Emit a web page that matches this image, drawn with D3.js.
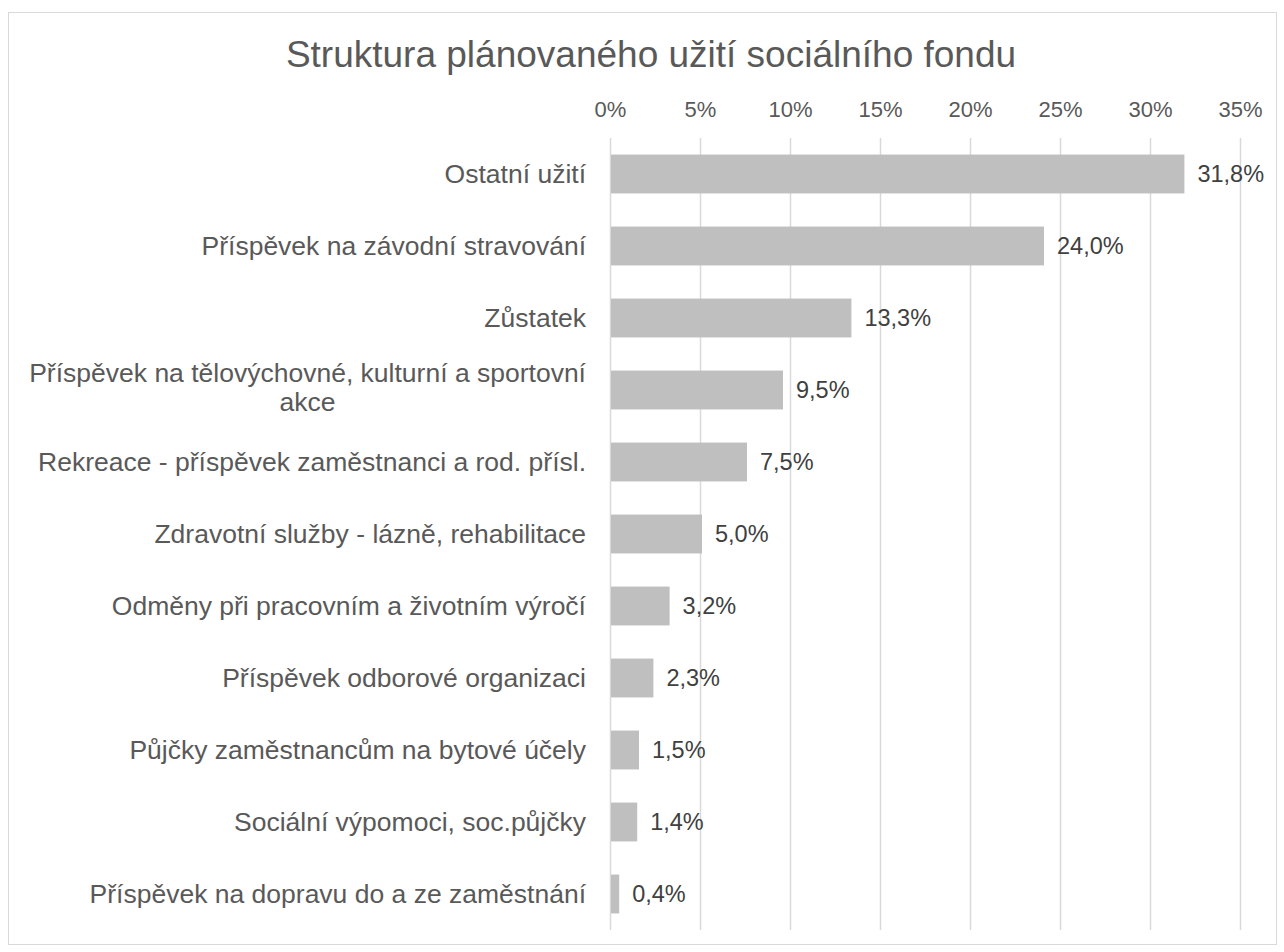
<!DOCTYPE html>
<html>
<head>
<meta charset="utf-8">
<script src="https://cdn.jsdelivr.net/npm/d3@7"></script>
<style>
body { margin: 0; background: #fff; }
text { font-family: "Liberation Sans", Arial, sans-serif; }
</style>
</head>
<body>
<div id="chart"></div>
<script>
var categories = [
	"Ostatní užití",
	"Příspěvek na závodní stravování",
	"Zůstatek",
	"Příspěvek na tělovýchovné, kulturní a sportovní|akce",
	"Rekreace - příspěvek zaměstnanci a rod. přísl.",
	"Zdravotní služby - lázně, rehabilitace",
	"Odměny při pracovním a životním výročí",
	"Příspěvek odborové organizaci",
	"Půjčky zaměstnancům na bytové účely",
	"Sociální výpomoci, soc.půjčky",
	"Příspěvek na dopravu do a ze zaměstnání"
];
var values = [31.8, 24.0, 13.3, 9.5, 7.5, 5.0, 3.2, 2.3, 1.5, 1.4, 0.4];
var ticks = [0, 5, 10, 15, 20, 25, 30, 35];
var title = "Struktura plánovaného užití sociálního fondu";

var width = 1284, height = 952;
var plotLeft = 610, plotRight = 1240, plotTop = 138, plotBottom = 930;

var svg = d3.select("#chart").append("svg")
	.attr("width", width)
	.attr("height", height);

// outer frame
svg.append("rect")
	.attr("x", 8.5).attr("y", 12.5)
	.attr("width", 1268).attr("height", 932)
	.attr("fill", "#fff")
	.attr("stroke", "#d9d9d9");

svg.append("text")
	.attr("x", 651).attr("y", 67)
	.attr("text-anchor", "middle")
	.attr("font-size", 37)
	.attr("fill", "#595959")
	.text(title);

var xScale = d3.scaleLinear().domain([0, 35]).range([plotLeft, plotRight]);
var yScale = d3.scaleBand().domain(d3.range(categories.length)).range([plotTop, plotBottom]).paddingInner(0.46).paddingOuter(0.23);

// gridlines
svg.append("g").selectAll("line")
	.data(ticks)
	.enter().append("line")
	.attr("x1", function(d){ return xScale(d) + 0.5; })
	.attr("x2", function(d){ return xScale(d) + 0.5; })
	.attr("y1", plotTop).attr("y2", plotBottom)
	.attr("stroke", "#d9d9d9")
	.attr("stroke-width", 1.5);

// top axis labels
var axis = svg.append("g")
	.attr("transform", "translate(0,117)")
	.call(d3.axisTop(xScale).tickValues(ticks).tickSize(0).tickPadding(0).tickFormat(function(d){ return d + "%"; }));
axis.select(".domain").remove();
axis.selectAll("text")
	.attr("dy", 0)
	.attr("font-size", 22)
	.attr("font-family", "Liberation Sans, Arial, sans-serif")
	.attr("fill", "#595959");

// bars
svg.append("g").selectAll("rect")
	.data(values)
	.enter().append("rect")
	.attr("x", xScale(0) + 1)
	.attr("y", function(d, i){ return yScale(i); })
	.attr("width", function(d){ return xScale(d) - xScale(0) + 1; })
	.attr("height", yScale.bandwidth())
	.attr("fill", "#bfbfbf");

// value labels
svg.append("g").selectAll("text")
	.data(values)
	.enter().append("text")
	.attr("x", function(d){ return xScale(d) + 15; })
	.attr("y", function(d, i){ return yScale(i) + yScale.bandwidth() / 2; })
	.attr("dy", "0.35em")
	.attr("font-size", 23.5)
	.attr("fill", "#404040")
	.text(function(d){ return d.toFixed(1).replace(".", ",") + "%"; });

// category labels (right aligned block, centred lines)
var labelRight = 586;
var lab = svg.append("g");
categories.forEach(function(c, i){
	var lines = c.split("|");
	var cy = yScale(i) + yScale.bandwidth() / 2;
	var t = lab.append("text")
		.attr("font-size", 26.5)
		.attr("fill", "#595959");
	if (lines.length == 1) {
		t.attr("x", labelRight).attr("y", cy).attr("dy", "0.35em")
			.attr("text-anchor", "end").text(c);
	} else {
		var tmp = [];
		lines.forEach(function(l, j){
			tmp.push(t.append("tspan").text(l));
		});
		var maxW = d3.max(tmp, function(s){ return s.node().getComputedTextLength(); });
		var lh = 29;
		tmp.forEach(function(s, j){
			s.attr("x", labelRight - maxW / 2)
				.attr("y", cy - 3 + (j - (lines.length - 1) / 2) * lh)
				.attr("dy", "0.35em")
				.attr("text-anchor", "middle");
		});
	}
});
</script>
</body>
</html>
